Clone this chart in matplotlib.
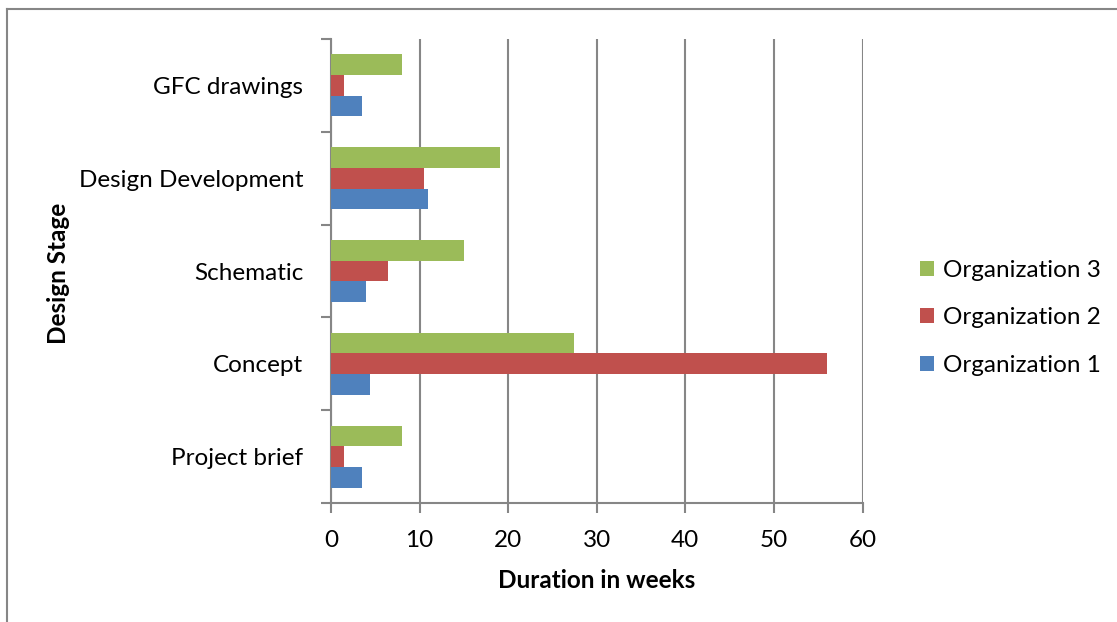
import matplotlib
matplotlib.use("Agg")
import matplotlib.pyplot as plt
from matplotlib.lines import Line2D
import numpy as np

plt.rcParams['font.family'] = ['Lato', 'DejaVu Sans']

stages = ["Project brief", "Concept", "Schematic", "Design Development", "GFC drawings"]
org1 = [3.5, 4.4, 4.0, 11.0, 3.5]
org2 = [1.5, 56.0, 6.4, 10.5, 1.5]
org3 = [8.0, 27.4, 15.0, 19.1, 8.0]
series_names = ["Organization 1", "Organization 2", "Organization 3"]
series_colors = ["#4F81BD", "#C0504D", "#9BBB59"]
x_ticks = [0, 10, 20, 30, 40, 50, 60]

W, H, DPI = 1117, 622, 100
fig = plt.figure(figsize=(W / DPI, H / DPI), dpi=DPI)

# plot area in pixel coordinates
left, right, top, bottom = 331, 862.5, 39, 503
ax = fig.add_axes([left / W, 1 - bottom / H, (right - left) / W, (bottom - top) / H])

grey = "#868686"
fs = 17.5

y = np.arange(len(stages))
bh = 1 / 4.5
handles = []
for k, (vals, name, col) in enumerate(zip([org1, org2, org3], series_names, series_colors)):
    b = ax.barh(y + (k - 1) * bh, vals, height=bh, color=col, label=name, zorder=3)
    handles.append(b)

ax.set_xlim(0, 60)
ax.set_ylim(-0.5, len(stages) - 0.5)
ax.set_xticks(x_ticks)
ax.set_xticklabels([str(t) for t in x_ticks], fontsize=fs)
ax.set_yticks(np.arange(-0.5, len(stages), 1.0))
ax.set_yticklabels([])
ax.set_yticks(y, minor=True)
ax.set_yticklabels(stages, minor=True, fontsize=fs)
ax.tick_params(axis='y', which='minor', length=0, pad=20)
ax.tick_params(axis='y', which='major', length=7.2, width=1.5, color=grey, direction='out')
ax.tick_params(axis='x', which='major', length=7.2, width=1.5, color=grey, direction='out', pad=12)

ax.grid(axis='x', color=grey, linewidth=1.5, zorder=0)
ax.set_axisbelow(True)
for s in ['top', 'right']:
    ax.spines[s].set_visible(False)
for s in ['left', 'bottom']:
    ax.spines[s].set_color(grey)
    ax.spines[s].set_linewidth(1.5)

fig.text(597 / W, 1 - 581 / H, "Duration in weeks", ha='center', va='center',
         fontsize=fs, fontweight='bold')
fig.text(59 / W, 1 - 273 / H, "Design Stage", ha='center', va='center',
         rotation=90, fontsize=fs, fontweight='bold')

leg = fig.legend(handles[::-1], series_names[::-1], loc='center left',
                 bbox_to_anchor=(920 / W, 1 - 318 / H), frameon=False, fontsize=fs,
                 handlelength=0.57, handleheight=0.57, handletextpad=0.37,
                 labelspacing=1.08, borderpad=0, borderaxespad=0)

# outer chart frame
fig.add_artist(Line2D([7 / W, 1], [1 - 9 / H, 1 - 9 / H], color=grey, linewidth=1.5,
                      transform=fig.transFigure))
fig.add_artist(Line2D([7 / W, 7 / W], [0, 1 - 9 / H], color=grey, linewidth=1.5,
                      transform=fig.transFigure))

fig.savefig("out.png", dpi=DPI)
